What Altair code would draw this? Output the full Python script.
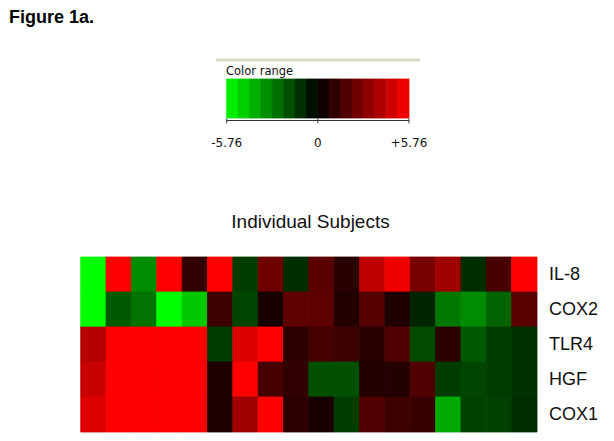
import altair as alt
import pandas as pd

GENES = ["IL-8", "COX2", "TLR4", "HGF", "COX1"]
SUBJECTS = list(range(1, 19))

IL8 = [-5.76, 5.76, -3.16, 5.76, 1.13, 5.76, -1.36, 2.48, -1.02, 2.03, 0.90, 4.29, 5.42, 2.71, 3.61, -1.02, 1.58, 5.76]
COX2 = [-5.76, -2.03, -2.60, -5.76, -4.52, 1.36, -1.58, 0.56, 2.15, 2.15, 0.79, 1.92, 0.68, -0.79, -2.71, -3.16, -2.26, 2.03]
TLR4 = [4.07, 5.76, 5.76, 5.76, 5.76, -1.36, 4.97, 5.76, 1.02, 1.58, 1.36, 0.90, 1.81, -1.69, 1.02, -2.03, -1.36, -1.13]
HGF = [4.52, 5.76, 5.76, 5.76, 5.76, 0.68, 5.76, 1.58, 1.13, -1.81, -1.81, 0.79, 0.79, 1.81, -1.36, -1.58, -1.36, -1.13]
COX1 = [4.97, 5.76, 5.76, 5.76, 5.76, 0.68, 3.61, 5.76, 1.02, 0.56, -1.36, 1.81, 1.36, 1.24, -3.84, -1.47, -1.47, -1.02]

LEGEND_STARTS = [-5.76, -5.04, -4.32, -3.60, -2.88, -2.16, -1.44, -0.72,
                 0.00, 0.72, 1.44, 2.16, 2.88, 3.60, 4.32, 5.04]
LEGEND_STEP = 0.72
TICK_VALUES = [-5.76, 0.0, 5.76]
TICK_LABELS = ["-5.76", "0", "+5.76"]

FIG_TITLE = "Figure 1a."
LEGEND_TITLE = "Color range"
HEAT_TITLE = "Individual Subjects"

rows = []
for gene, vals in zip(GENES, [IL8, COX2, TLR4, HGF, COX1]):
    for s, v in zip(SUBJECTS, vals):
        rows.append({"gene": gene, "subject": s, "value": v})
heat_df = pd.DataFrame(rows)
legend_df = pd.DataFrame({"start": LEGEND_STARTS})
tick_df = pd.DataFrame({"tick": TICK_VALUES, "label": TICK_LABELS})
axis_df = pd.DataFrame({"lo": [TICK_VALUES[0]], "hi": [TICK_VALUES[-1]]})
gene_df = pd.DataFrame({"gene": GENES})

color_scale = alt.Scale(domain=[-5.76, 0, 5.76], range=["#00ff00", "#000000", "#ff0000"],
                        interpolate="rgb", clamp=True)
hx = alt.Scale(domain=SUBJECTS, range=[72.7, 529], paddingInner=0, paddingOuter=0)
hy = alt.Scale(domain=GENES, range=[249, 424], paddingInner=0, paddingOuter=0)
lx = alt.Scale(domain=[-5.76, 5.76], range=[218.7, 401], nice=False, zero=False)

ARIAL = "Liberation Sans"
TAHOMA = "DejaVu Sans"

heat = alt.Chart(heat_df).mark_rect(strokeWidth=0.8).encode(
    x=alt.X("subject:O", scale=hx, axis=None),
    y=alt.Y("gene:N", scale=hy, axis=None),
    color=alt.Color("value:Q", scale=color_scale, legend=None),
    stroke=alt.Stroke("value:Q", scale=color_scale, legend=None),
)

gene_labels = alt.Chart(gene_df).mark_text(
    align="left", baseline="middle", font=ARIAL, fontSize=18, color="#111111"
).encode(
    y=alt.Y("gene:N", scale=hy, axis=None),
    x=alt.value(541),
    text="gene:N",
)

legend_bar = alt.Chart(legend_df).transform_calculate(
    end=f"datum.start + {LEGEND_STEP}", mid=f"datum.start + {LEGEND_STEP / 2}"
).mark_rect(strokeWidth=0.8).encode(
    x=alt.X("start:Q", scale=lx, axis=None),
    x2="end:Q",
    y=alt.value(71),
    y2=alt.value(110),
    color=alt.Color("mid:Q", scale=color_scale, legend=None),
    stroke=alt.Stroke("mid:Q", scale=color_scale, legend=None),
)

axis_line = alt.Chart(axis_df).mark_rule(color="#333333", strokeWidth=1).encode(
    x=alt.X("lo:Q", scale=lx, axis=None),
    x2="hi:Q",
    y=alt.value(112.5),
)

ticks = alt.Chart(tick_df).mark_rule(color="#333333", strokeWidth=1).encode(
    x=alt.X("tick:Q", scale=lx, axis=None),
    y=alt.value(110.5),
    y2=alt.value(115.5),
)

tick_labels = alt.Chart(tick_df).mark_text(
    align="center", baseline="alphabetic", font=TAHOMA, fontSize=12, color="#111111"
).encode(
    x=alt.X("tick:Q", scale=lx, axis=None),
    y=alt.value(139),
    text="label:N",
)

top_rule = alt.Chart(pd.DataFrame({"a": [0]})).mark_rule(color="#dcdbc9", strokeWidth=3).encode(
    x=alt.value(208), x2=alt.value(412), y=alt.value(52)
)

legend_title = alt.Chart(pd.DataFrame({"t": [LEGEND_TITLE]})).mark_text(
    align="left", baseline="alphabetic", font=TAHOMA, fontSize=11.5, color="#111111"
).encode(x=alt.value(218), y=alt.value(67), text="t:N")

fig_title = alt.Chart(pd.DataFrame({"t": [FIG_TITLE]})).mark_text(
    align="left", baseline="alphabetic", font=ARIAL, fontSize=18, fontWeight="bold", color="#000000"
).encode(x=alt.value(1), y=alt.value(15), text="t:N")

heat_title = alt.Chart(pd.DataFrame({"t": [HEAT_TITLE]})).mark_text(
    align="center", baseline="alphabetic", font=ARIAL, fontSize=19, color="#111111"
).encode(x=alt.value(302.5), y=alt.value(220), text="t:N")

chart = alt.layer(
    heat, gene_labels, legend_bar, axis_line, ticks, tick_labels,
    top_rule, legend_title, fig_title, heat_title
).resolve_scale(
    x="independent", y="independent"
).properties(
    width=598, height=425, autosize=alt.AutoSizeParams(type="none"), padding=0,
    background="white"
).configure_view(stroke=None)

chart.save("out.html", embed_options={"renderer": "svg", "actions": False})
